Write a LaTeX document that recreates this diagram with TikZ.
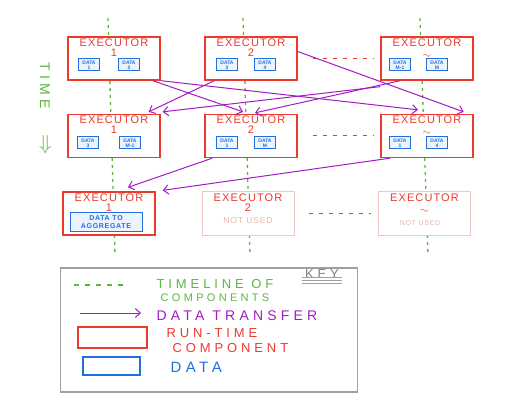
\documentclass[tikz,border=0pt]{standalone}
\usepackage{fontspec}
\setmainfont{Liberation Sans}
\newfontfamily\hand[LetterSpace=10]{Liberation Sans}
\newfontfamily\handwide[LetterSpace=30]{Liberation Sans}
\usetikzlibrary{positioning,arrows.meta}
\definecolor{exred}{HTML}{EC3A2C}
\definecolor{exblue}{HTML}{1F6FE0}
\definecolor{tlgreen}{HTML}{5DB540}
\definecolor{xfer}{HTML}{A21CC4}
\definecolor{fade}{HTML}{F2C6C2}
\definecolor{fadetext}{HTML}{E9B2AC}
\definecolor{keygrey}{HTML}{A0A0A0}

\begin{document}
\begin{tikzpicture}[x=1pt,y=-1pt,
    executor/.style={draw=exred,line width=1.3pt,fill=white,minimum width=92pt,minimum height=43pt},
    idle/.style={executor,draw=fade,line width=1pt},
    title/.style={text=exred,font=\hand\fontsize{11}{10}\selectfont,align=center,anchor=north,inner sep=2pt},
    databox/.style={draw=exblue,line width=1pt,fill=exblue!8,text=exblue,font=\fontsize{5}{4.8}\selectfont\bfseries,align=center,minimum width=21pt,minimum height=12pt,inner sep=0.5pt},
    unused/.style={text=fadetext,font=\hand\fontsize{8.5}{9}\selectfont},
    xfer/.style={draw=xfer,line width=1pt,-{Straight Barb[length=5pt,width=9pt]}},
    timeline/.style={tlgreen,line width=1.3pt,dash pattern=on 3pt off 4pt},
    gap/.style={exred,line width=1pt,dash pattern=on 4pt off 6pt}]
  \useasboundingbox (0,0) rectangle (517,417);
  % timelines behind the executors
  \coordinate (t1a) at (108,18); \coordinate (t1b) at (115,255);
  \coordinate (t2a) at (243,18); \coordinate (t2b) at (250,255);
  \coordinate (tna) at (420,18); \coordinate (tnb) at (428,255);
  \draw[timeline] (t1a) -- (t1b); \draw[timeline] (t2a) -- (t2b); \draw[timeline] (tna) -- (tnb);
  % first row
  \node[executor] (e11) at (114,58.5) {}; \node[title] at (e11.north) {EXECUTOR\\1};
  \node[executor] (e12) at (251,58.5) {}; \node[title] at (e12.north) {EXECUTOR\\2};
  \node[executor] (e1n) at (427,58.5) {}; \node[title] at (e1n.north) {EXECUTOR\\[2pt]$\sim$};
  \node[databox] (d11) at (89,65) {DATA\\1}; \node[databox] (d12) at (129,65) {DATA\\2};
  \node[databox] (d13) at (227,65) {DATA\\3}; \node[databox] (d14) at (265,65) {DATA\\4};
  \node[databox] (d15) at (400,65) {DATA\\M-1}; \node[databox] (d16) at (437,65) {DATA\\M};
  % second row
  \node[executor] (e21) at (114,136) {}; \node[title] at (e21.north) {EXECUTOR\\1};
  \node[executor] (e22) at (251,136) {}; \node[title] at (e22.north) {EXECUTOR\\2};
  \node[executor] (e2n) at (427,136) {}; \node[title] at (e2n.north) {EXECUTOR\\[2pt]$\sim$};
  \node[databox] (d21) at (88,143) {DATA\\3}; \node[databox] (d22) at (130,143) {DATA\\M-1};
  \node[databox] (d23) at (227,143) {DATA\\1}; \node[databox] (d24) at (265,143) {DATA\\M};
  \node[databox] (d25) at (400,143) {DATA\\1}; \node[databox] (d26) at (437,143) {DATA\\4};
  % third row
  \node[executor] (e31) at (109,213.5) {}; \node[title] at (e31.north) {EXECUTOR\\1};
  \node[idle] (e32) at (248,213.5) {}; \node[title] at (e32.north) {EXECUTOR\\2};
  \node[idle] (e3n) at (424.5,213.5) {}; \node[title] at (e3n.north) {EXECUTOR\\[2pt]$\sim$};
  \node[databox,font=\hand\fontsize{7}{7.5}\selectfont\bfseries,minimum width=72pt,minimum height=19pt] (agg) at (106,222) {DATA TO\\AGGREGATE};
  \node[unused] (nu2) at (248,221) {NOT USED};
  \node[unused,font=\hand\fontsize{7}{8}\selectfont] (nun) at (420,223) {NOT USED};
  % dashes between executor 2 and N
  \draw[gap] ([xshift=15pt]e12.east) -- ([xshift=-6pt]e1n.west);
  \draw[gap] ([xshift=15pt]e22.east) -- ([xshift=-6pt]e2n.west);
  \draw[gap] ([xshift=14pt]e32.east) -- ([xshift=-7pt]e3n.west);
  % data transfers
  \draw[xfer] ([xshift=-8pt]e11.south east) -- ([xshift=-8pt,yshift=2pt]e22.north);
  \draw[xfer] (e11.south east) -- ([xshift=-9pt,yshift=4pt]e2n.north);
  \draw[xfer] ([xshift=10pt]e12.south west) -- ([xshift=-12pt,yshift=2pt]e21.north east);
  \draw[xfer] ([yshift=7pt]e12.east) -- ([xshift=-10pt,yshift=2pt]e2n.north east);
  \draw[xfer] ([yshift=-6pt]e1n.south west) -- ([xshift=2pt,yshift=2pt]e21.north east);
  \draw[xfer] ([xshift=20pt]e1n.south west) -- ([xshift=4pt,yshift=1pt]e22.north);
  \draw[xfer] ([xshift=8pt]e22.south west) -- ([xshift=19pt,yshift=4pt]e31.north);
  \draw[xfer] ([xshift=10pt]e2n.south west) -- ([xshift=7pt,yshift=1pt]e31.north east);
  % time
  \node[text=tlgreen,rotate=-90,font=\handwide\fontsize{14}{14}\selectfont] (time) at (45,86) {TIME};
  \node[text=tlgreen,rotate=-90,font=\fontsize{20}{20}\selectfont] (down) at (44,145) {$\Rightarrow$};
  % key
  \node[draw=keygrey,line width=1.5pt,minimum width=297pt,minimum height=124pt] (key) at (209,330) {};
  \node[text=keygrey!80!black,font=\handwide\fontsize{13}{13}\selectfont] (keyt) at (322,274) {KEY};
  \draw[keygrey,line width=1pt] ([yshift=5pt]keyt.south west) -- ([yshift=5pt]keyt.south east);
  \draw[keygrey,line width=1pt] ([yshift=2pt]keyt.south west) -- ([yshift=2pt]keyt.south east);
  \draw[keygrey,line width=1pt] ([yshift=-1pt]keyt.south west) -- ([yshift=-1pt]keyt.south east);
  \coordinate (kta) at (74,285); \coordinate (ktb) at (128,285);
  \draw[timeline,dash pattern=on 5pt off 6pt] (kta) -- (ktb);
  \node[text=tlgreen,font=\handwide\fontsize{13}{13}\selectfont,align=center] (ktl) at (215,291) {TIMELINE OF\\{\fontsize{11}{11}\selectfont COMPONENTS}};
  \coordinate (kxa) at (80,313); \coordinate (kxb) at (141,313);
  \draw[xfer] (kxa) -- (kxb);
  \node[text=xfer,font=\handwide\fontsize{14}{14}\selectfont,anchor=west] (kxt) at (153,316) {DATA TRANSFER};
  \node[draw=exred,line width=1.5pt,minimum width=69pt,minimum height=21pt] (krun) at (112.5,337.5) {};
  \node[text=exred,font=\handwide\fontsize{13}{15}\selectfont,anchor=west,align=left] (krt) at (163,341) {RUN-TIME\\\hspace*{6pt}COMPONENT};
  \node[draw=exblue,line width=1.5pt,minimum width=57pt,minimum height=18pt] (kdat) at (111.5,366) {};
  \node[text=exblue,font=\handwide\fontsize{15}{15}\selectfont,anchor=west] (kdt) at (167,367) {DATA};
\end{tikzpicture}
\end{document}
